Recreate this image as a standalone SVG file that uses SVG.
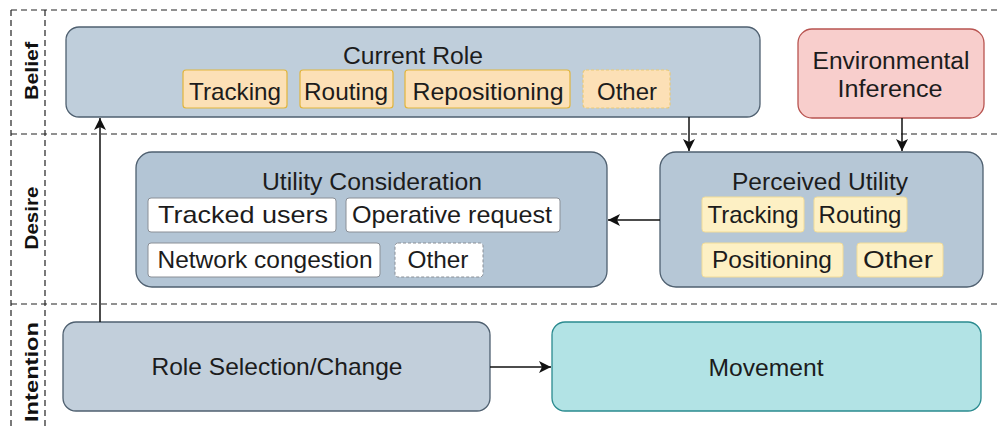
<svg xmlns="http://www.w3.org/2000/svg" width="1000" height="427" viewBox="0 0 1000 427">
<style>
text{font-family:"Liberation Sans",Arial,sans-serif;fill:#1c1c1c;text-anchor:middle}
.t{font-size:23px}
.c{font-size:24px}
.lane{font-size:19px;font-weight:bold;fill:#111}
.sep{stroke:#222;stroke-width:1.2;stroke-dasharray:6 4;fill:none}
.box{stroke:#4f6070;stroke-width:1.3}
.chipO{fill:#fce0b6;stroke:#e2b53c;stroke-width:1.2}
.chipY{fill:#fdf0c4;stroke:#f2dc98;stroke-width:1}
.chipW{fill:#ffffff;stroke:#8a8f96;stroke-width:1}
.dash{stroke-dasharray:3 2}
.conn{stroke:#111;stroke-width:1.5;fill:none}
</style>
<defs>
<marker id="ah" viewBox="0 0 10 10" refX="10" refY="5" markerWidth="12" markerHeight="12" markerUnits="userSpaceOnUse" orient="auto">
<path d="M0,0 L10,5 L0,10 L2.5,5 Z" fill="#111"/>
</marker>
</defs>
<rect width="1000" height="427" fill="#ffffff"/>
<g id="lanes">
<line class="sep" x1="11" y1="10" x2="1000" y2="10"/>
<line class="sep" x1="11" y1="134" x2="1000" y2="134"/>
<line class="sep" x1="11" y1="304" x2="1000" y2="304"/>
<line class="sep" x1="11" y1="10" x2="11" y2="427"/>
<line class="sep" x1="45" y1="10" x2="45" y2="427"/>
<text class="lane" transform="translate(38,71) rotate(-90)" textLength="58" lengthAdjust="spacingAndGlyphs">Belief</text>
<text class="lane" transform="translate(38,218) rotate(-90)" textLength="63" lengthAdjust="spacingAndGlyphs">Desire</text>
<text class="lane" transform="translate(38,372) rotate(-90)" textLength="100" lengthAdjust="spacingAndGlyphs">Intention</text>
</g>
<g id="current-role">
<rect class="box" x="66" y="27" width="694" height="90" rx="13" fill="#bfcedb"/>
<text class="t" x="413" y="64" textLength="140" lengthAdjust="spacingAndGlyphs">Current Role</text>
<rect class="chipO" x="183" y="70" width="104" height="38" rx="3"/>
<text class="c" x="235" y="100" textLength="92" lengthAdjust="spacingAndGlyphs">Tracking</text>
<rect class="chipO" x="300" y="70" width="93" height="38" rx="3"/>
<text class="c" x="346" y="100" textLength="84" lengthAdjust="spacingAndGlyphs">Routing</text>
<rect class="chipO" x="405" y="70" width="165" height="38" rx="3"/>
<text class="c" x="488" y="100" textLength="151" lengthAdjust="spacingAndGlyphs">Repositioning</text>
<rect class="chipO dash" x="583" y="70" width="87" height="38" rx="3" style="stroke:#e9c977"/>
<text class="c" x="627" y="100" textLength="60" lengthAdjust="spacingAndGlyphs">Other</text>
</g>
<g id="environmental-inference">
<rect x="798" y="29" width="186" height="89" rx="14" fill="#f8cecc" stroke="#b85450" stroke-width="1.3"/>
<text class="t" x="891" y="69" textLength="157" lengthAdjust="spacingAndGlyphs">Environmental</text>
<text class="t" x="890" y="97" textLength="105" lengthAdjust="spacingAndGlyphs">Inference</text>
</g>
<g id="utility-consideration">
<rect class="box" x="136" y="152" width="471" height="135" rx="16" fill="#b3c5d5"/>
<text class="t" x="372" y="190" textLength="220" lengthAdjust="spacingAndGlyphs">Utility Consideration</text>
<rect class="chipW" x="148" y="198" width="188" height="34" rx="3"/>
<text class="c" x="243" y="223" textLength="170" lengthAdjust="spacingAndGlyphs">Tracked users</text>
<rect class="chipW" x="346" y="198" width="214" height="34" rx="3"/>
<text class="c" x="452" y="223" textLength="200" lengthAdjust="spacingAndGlyphs">Operative request</text>
<rect class="chipW" x="148" y="243" width="232" height="34" rx="3"/>
<text class="c" x="265" y="268" textLength="215" lengthAdjust="spacingAndGlyphs">Network congestion</text>
<rect class="chipW dash" x="395" y="243" width="88" height="34" rx="3"/>
<text class="c" x="438" y="268" textLength="61" lengthAdjust="spacingAndGlyphs">Other</text>
</g>
<g id="perceived-utility">
<rect class="box" x="660" y="152" width="323" height="135" rx="16" fill="#b6c7d6"/>
<text class="t" x="820" y="190" textLength="176" lengthAdjust="spacingAndGlyphs">Perceived Utility</text>
<rect class="chipY" x="702" y="197" width="102" height="35" rx="3"/>
<text class="c" x="753" y="223" textLength="91" lengthAdjust="spacingAndGlyphs">Tracking</text>
<rect class="chipY" x="814" y="197" width="93" height="35" rx="3"/>
<text class="c" x="860" y="223" textLength="83" lengthAdjust="spacingAndGlyphs">Routing</text>
<rect class="chipY" x="702" y="243" width="141" height="34" rx="3"/>
<text class="c" x="772" y="268" textLength="120" lengthAdjust="spacingAndGlyphs">Positioning</text>
<rect class="chipY" x="857" y="243" width="86" height="34" rx="3"/>
<text class="c" x="898" y="268" textLength="70" lengthAdjust="spacingAndGlyphs">Other</text>
</g>
<g id="role-selection">
<rect class="box" x="63" y="322" width="427" height="89" rx="13" fill="#c2cfdb"/>
<text class="c" x="277" y="375" textLength="251" lengthAdjust="spacingAndGlyphs">Role Selection/Change</text>
</g>
<g id="movement">
<rect x="552" y="322" width="429" height="89" rx="13" fill="#b2e3e5" stroke="#2a8a8f" stroke-width="1.3"/>
<text class="c" x="766" y="376" textLength="115" lengthAdjust="spacingAndGlyphs">Movement</text>
</g>
<g id="connectors">
<path class="conn" d="M689,117 V151" marker-end="url(#ah)"/>
<path class="conn" d="M902,118 V151" marker-end="url(#ah)"/>
<path class="conn" d="M660,220 H608" marker-end="url(#ah)"/>
<path class="conn" d="M100,322 V118" marker-end="url(#ah)"/>
<path class="conn" d="M490,367 H551" marker-end="url(#ah)"/>
</g>
</svg>
